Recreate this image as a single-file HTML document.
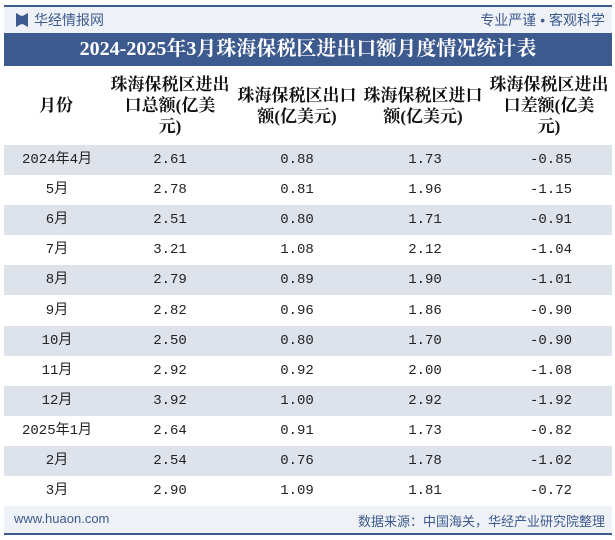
<!DOCTYPE html>
<html><head><meta charset="utf-8"><style>
body{margin:0;width:615px;height:540px;background:#fff;position:relative;overflow:hidden;font-family:"Liberation Serif","Noto Serif CJK SC",serif;}
.abs{position:absolute;}
.row{position:absolute;left:4px;width:608px;height:30px;}
.shade{background:#dde2eb;}
.cell{position:absolute;top:0;height:30px;line-height:30px;font-size:14px;color:#222;text-align:center;transform:translateX(-50%);white-space:nowrap;font-family:"Liberation Mono","Noto Sans CJK SC",monospace;}
.hd{position:absolute;top:66px;height:79px;display:flex;align-items:center;justify-content:center;text-align:center;font-size:17px;font-weight:bold;line-height:21px;color:#111;font-family:"Liberation Serif","Noto Serif CJK SC",serif;transform:translateX(-50%);width:130px;white-space:nowrap;}
</style></head><body>
<div class="abs" style="left:4px;top:5px;width:608px;height:2px;background:#3d5a8e"></div>
<div class="abs" style="left:4px;top:7px;width:608px;height:26px;background:#eef1f6"></div>
<div class="abs" style="left:16px;top:13px;width:12px;height:14px;background:#3d5a8e;clip-path:polygon(0 0,40% 20%,60% 20%,100% 0,100% 100%,60% 80%,40% 80%,0 100%)"></div>
<div class="abs" style="left:34px;top:10px;font-size:14px;color:#3d5a8e;font-family:'Liberation Sans','Noto Sans CJK SC',sans-serif">华经情报网</div>
<div class="abs" style="right:10px;top:10px;font-size:14px;color:#3d5a8e;font-family:'Liberation Sans','Noto Sans CJK SC',sans-serif">专业严谨 • 客观科学</div>
<div class="abs" style="left:4px;top:33px;width:608px;height:33px;background:#3d5a8e;color:#fff;font-size:20px;font-weight:bold;line-height:33px;text-align:center;font-family:'Liberation Serif','Noto Serif CJK SC',serif">2024-2025年3月珠海保税区进出口额月度情况统计表</div>

<div class="hd" style="left:56px;width:80px">月份</div>
<div class="hd" style="left:170px">珠海保税区进出<br>口总额(亿美<br>元)</div>
<div class="hd" style="left:297px">珠海保税区出口<br>额(亿美元)</div>
<div class="hd" style="left:423px">珠海保税区进口<br>额(亿美元)</div>
<div class="hd" style="left:549px">珠海保税区进出<br>口差额(亿美<br>元)</div>

<div id="rows"></div>

<div class="abs" style="left:4px;top:506px;width:608px;height:27px;background:#eef1f6"></div>
<div class="abs" style="left:14px;top:511px;font-size:13px;color:#3d5a8e;font-family:'Liberation Sans',sans-serif">www.huaon.com</div>
<div class="abs" style="right:10px;top:511px;font-size:13px;color:#3d5a8e;font-family:'Liberation Sans','Noto Sans CJK SC',sans-serif">数据来源：中国海关，华经产业研究院整理</div>
<div class="abs" style="left:4px;top:533px;width:608px;height:2px;background:#3d5a8e"></div>

<script>
const months=["2024年4月","5月","6月","7月","8月","9月","10月","11月","12月","2025年1月","2月","3月"];
const totals=["2.61","2.78","2.51","3.21","2.79","2.82","2.50","2.92","3.92","2.64","2.54","2.90"];
const exportsV=["0.88","0.81","0.80","1.08","0.89","0.96","0.80","0.92","1.00","0.91","0.76","1.09"];
const importsV=["1.73","1.96","1.71","2.12","1.90","1.86","1.70","2.00","2.92","1.73","1.78","1.81"];
const balances=["-0.85","-1.15","-0.91","-1.04","-1.01","-0.90","-0.90","-1.08","-1.92","-0.82","-1.02","-0.72"];
const centers=[53,166,293,421,547];
const host=document.getElementById('rows');
months.forEach((m,i)=>{
  const r=document.createElement('div');
  r.className='row'+(i%2===0?' shade':'');
  r.style.top=(145+i*30.1)+'px';
  
  
  const vals=[m,totals[i],exportsV[i],importsV[i],balances[i]];
  vals.forEach((v,j)=>{
    const c=document.createElement('div');
    c.className='cell';
    c.style.left=centers[j]+'px';
    c.textContent=v;
    
    
    r.appendChild(c);
  });
  host.appendChild(r);
});
</script>
</body></html>
